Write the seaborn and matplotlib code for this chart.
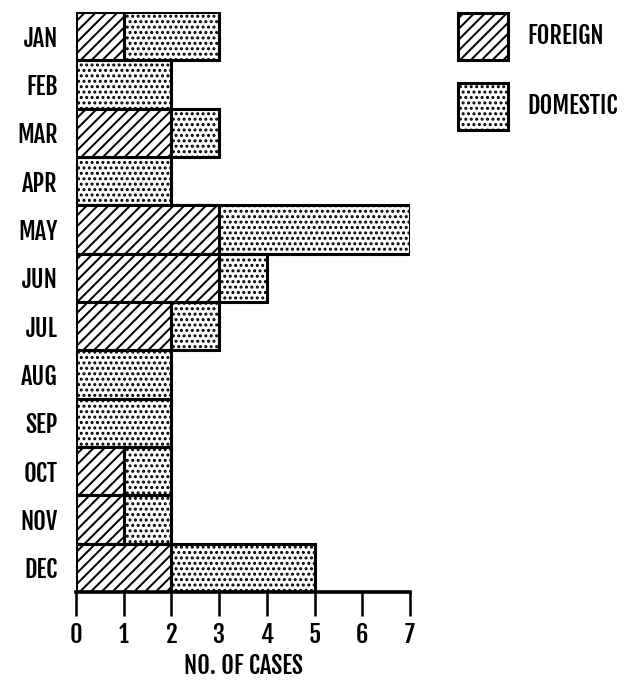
"""
Monthly cases, foreign vs domestic, as stacked horizontal bars.
"""

import matplotlib
matplotlib.use("Agg")
import pandas as pd
import matplotlib.pyplot as plt
import seaborn as sns
from matplotlib import font_manager
from matplotlib.patches import Patch

# ---------------------------------------------------------------------------
# Data
# ---------------------------------------------------------------------------
MONTHS = ["JAN", "FEB", "MAR", "APR", "MAY", "JUN",
          "JUL", "AUG", "SEP", "OCT", "NOV", "DEC"]
FOREIGN = [1, 0, 2, 0, 3, 3, 2, 0, 0, 1, 1, 2]
DOMESTIC = [2, 2, 1, 2, 4, 1, 1, 2, 2, 1, 1, 3]
X_TICKS = [0, 1, 2, 3, 4, 5, 6, 7]

# ---------------------------------------------------------------------------
# Style
# ---------------------------------------------------------------------------
DPI = 130
W_PX, H_PX = 632, 685
sns.set_theme(style="white")

# narrow bold gothic if one is around, else condensed DejaVu
names = {f.name for f in font_manager.fontManager.ttflist}
narrow = [n for n in ["Fjalla One", "PT Sans Narrow"] if n in names]
plt.rcParams["font.family"] = narrow + ["DejaVu Sans"]
plt.rcParams["font.stretch"] = "condensed"
plt.rcParams["font.weight"] = "bold"
plt.rcParams["text.color"] = "black"
plt.rcParams["axes.labelcolor"] = "black"
plt.rcParams["hatch.linewidth"] = 1.1
plt.rcParams["hatch.color"] = "black"

FONT = 13.5 if narrow else 11
EDGE_LW = 1.7
FOREIGN_HATCH = "////"
DOMESTIC_HATCH = "...."

df = pd.DataFrame({"month": MONTHS, "foreign": FOREIGN, "domestic": DOMESTIC})
df["total"] = df["foreign"] + df["domestic"]

fig = plt.figure(figsize=(W_PX / DPI, H_PX / DPI), dpi=DPI)
ax = fig.add_axes([76 / W_PX, 1 - 592 / H_PX, (410 - 76) / W_PX, (592 - 12) / H_PX])

# total bar (dotted) first, foreign part drawn over its left portion
sns.barplot(data=df, x="total", y="month", orient="h", ax=ax, width=1.0,
            color="white", saturation=1, edgecolor="black", linewidth=EDGE_LW,
            hatch=DOMESTIC_HATCH, errorbar=None)
sns.barplot(data=df, x="foreign", y="month", orient="h", ax=ax, width=1.0,
            color="white", saturation=1, edgecolor="black", linewidth=EDGE_LW,
            hatch=FOREIGN_HATCH, errorbar=None)

ax.set_xlim(0, 7)
ax.set_ylim(len(MONTHS) - 0.5, -0.5)
ax.set_xticks(X_TICKS)
ax.set_xticklabels([str(t) for t in X_TICKS], fontsize=FONT, fontweight="bold")
ax.set_yticklabels(MONTHS, fontsize=FONT, fontweight="bold")
ax.set_ylabel("")
ax.set_xlabel("NO. OF CASES", fontsize=FONT, fontweight="bold", labelpad=3)

for side in ["top", "right", "left"]:
    ax.spines[side].set_visible(False)
ax.spines["bottom"].set_linewidth(2.0)
ax.spines["bottom"].set_color("black")
ax.tick_params(axis="x", direction="out", length=13.5, width=1.4, pad=3,
               colors="black", bottom=True)
ax.tick_params(axis="y", length=0, pad=10, colors="black")
ax.set_facecolor("white")

handles = [
    Patch(facecolor="white", edgecolor="black", linewidth=EDGE_LW, hatch=FOREIGN_HATCH),
    Patch(facecolor="white", edgecolor="black", linewidth=EDGE_LW, hatch=DOMESTIC_HATCH),
]
fig.legend(handles, ["FOREIGN", "DOMESTIC"], loc="upper left",
           bbox_to_anchor=(458 / W_PX, 1 - 13 / H_PX), frameon=False,
           fontsize=FONT, handlelength=2.05, handleheight=2.6,
           handletextpad=0.8, labelspacing=0.95, borderpad=0, borderaxespad=0)

fig.savefig("out.png", dpi=DPI, facecolor="white")
